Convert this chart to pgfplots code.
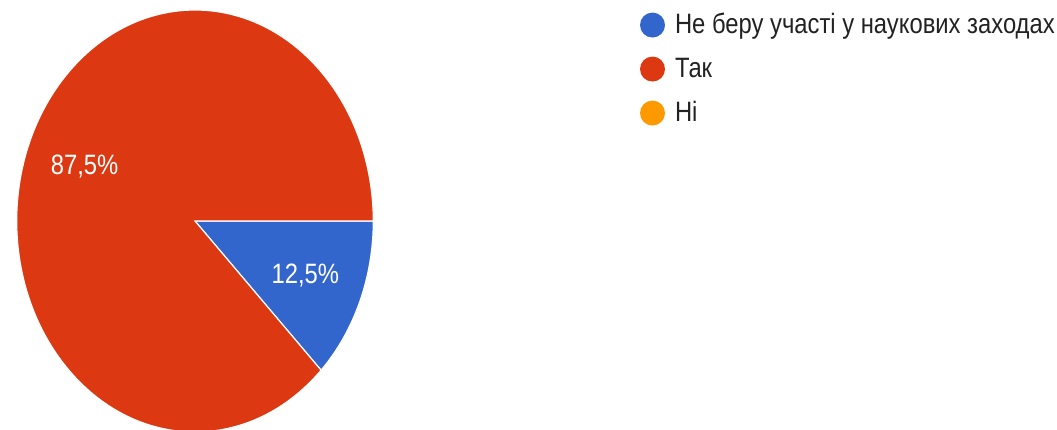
\documentclass[border=0pt]{standalone}
\usepackage{fontspec}
\setmainfont{Liberation Sans}[FakeStretch=0.85]
\usepackage{pgfplots}
\usepackage{pgfplotstable}
\pgfplotsset{compat=1.18}

\definecolor{gblue}{HTML}{3366CC}
\definecolor{gred}{HTML}{DC3912}
\definecolor{gorange}{HTML}{FF9900}
\definecolor{gtext}{HTML}{222222}

% shares in percent, in legend order
\pgfplotstableread[col sep=comma]{
slice,value
0,12.5
1,87.5
2,0
}\piedata

\begin{document}
\begin{tikzpicture}
    \pgfplotstablegetelem{0}{value}\of\piedata \pgfmathsetmacro\va{\pgfplotsretval}
    \pgfplotstablegetelem{1}{value}\of\piedata \pgfmathsetmacro\vb{\pgfplotsretval}
    % slices run clockwise from 3 o'clock
    \pgfmathsetmacro\aA{0}
    \pgfmathsetmacro\aB{\aA-3.6*\va}
    \pgfmathsetmacro\aC{\aB-3.6*\vb}
    \pgfmathsetmacro\mA{(\aA+\aB)/2}
    \pgfmathsetmacro\mB{(\aB+\aC)/2}
    \begin{axis}[
            width=1057pt, height=429pt, scale only axis,
            xmin=0, xmax=1057, ymin=0, ymax=429,
            hide axis,
            legend cell align=left,
            legend style={at={(axis cs:640,417.7)}, anchor=north west,
                draw=none, fill=none, inner sep=0pt, outer sep=0pt,
                font=\fontsize{28}{28}\selectfont, text=gtext,
                row sep=16.5pt, column sep=0pt,
                nodes={inner sep=0pt, outer sep=0pt, text height=22pt, text depth=5.5pt}},
        ]
        \addlegendimage{legend image code/.code={\fill[gblue, draw=none] (12.5pt,0pt) circle[radius=12.5pt]; \path[draw=none] (0pt,0pt) -- (35pt,0pt);}}
        \addlegendentry{Не беру участі у наукових заходах}
        \addlegendimage{legend image code/.code={\fill[gred, draw=none] (12.5pt,0pt) circle[radius=12.5pt]; \path[draw=none] (0pt,0pt) -- (35pt,0pt);}}
        \addlegendentry{Так}
        \addlegendimage{legend image code/.code={\fill[gorange, draw=none] (12.5pt,0pt) circle[radius=12.5pt]; \path[draw=none] (0pt,0pt) -- (35pt,0pt);}}
        \addlegendentry{Ні}

        \filldraw[fill=gblue, draw=white, line width=1.2pt] (axis cs:195,208) -- ++(\aA:178.3pt and 211pt)
            arc[start angle=\aA, end angle=\aB, x radius=178.3pt, y radius=211pt] -- cycle;
        \filldraw[fill=gred, draw=white, line width=1.2pt] (axis cs:195,208) -- ++(\aB:178.3pt and 211pt)
            arc[start angle=\aB, end angle=\aC, x radius=178.3pt, y radius=211pt] -- cycle;

        \path (axis cs:195,208) ++(\mA:119.5pt and 141.4pt) node[white, font=\fontsize{28}{28}\selectfont]
            {\pgfmathprintnumber[assume math mode=true, fixed, fixed zerofill, precision=1, use comma]{\va}\%};
        \path (axis cs:195,208) ++(\mB:119.5pt and 141.4pt) node[white, font=\fontsize{28}{28}\selectfont]
            {\pgfmathprintnumber[assume math mode=true, fixed, fixed zerofill, precision=1, use comma]{\vb}\%};
    \end{axis}
    \pgfresetboundingbox
    \useasboundingbox (current axis.south west) rectangle (current axis.north east);
\end{tikzpicture}
\end{document}
